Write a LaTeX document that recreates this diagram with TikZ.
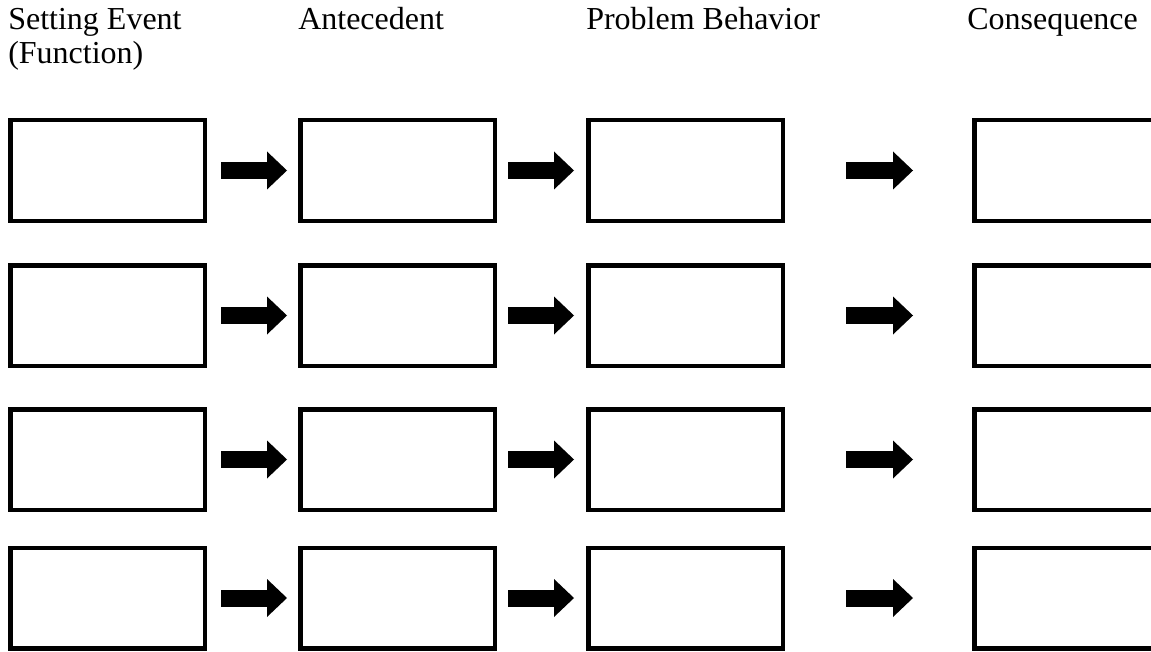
\documentclass[tikz,border=0pt]{standalone}
\usepackage{fontspec}
\setmainfont{Liberation Serif}
\usepackage{tikz}
\usetikzlibrary{arrows.meta}

\tikzset{
  stepbox/.style={draw, line width=3.375pt, minimum width=145.875pt, minimum height=75.375pt, inner sep=0pt},
  blockarrow/.style={line width=12.75pt, -{Triangle[length=15pt, width=28.5pt, line width=0pt]}},
  heading/.style={anchor=base west, inner sep=0pt, align=left, font={\fontsize{24}{25.5}\selectfont}}
}

\begin{document}
\begin{tikzpicture}[x=0.75pt, y=-0.75pt]

  \useasboundingbox (0,0) rectangle (1151,652);
  \clip (0,0) rectangle (1151,652);

  \node[heading] (hset) at (8,63.3) {Setting Event\\(Function)}; % base is the last line
  \node[heading] (hant) at (298,29.3) {Antecedent};
  \node[heading] (hpb)  at (586,29.3) {Problem Behavior};
  \node[heading] (hcon) at (967,29.3) {Consequence};

  \foreach \r/\y in {1/170.5, 2/315.5, 3/459.5, 4/598} {
    \node[stepbox] (set\r) at (107.5,\y) {};   % setting event
    \node[stepbox] (ant\r) at (397.5,\y) {};   % antecedent
    \node[stepbox] (pb\r)  at (685.5,\y) {};   % problem behavior
    \node[stepbox] (con\r) at (1071.5,\y) {};  % consequence, cut at the edge

    \draw[blockarrow, shorten <=10.5pt, shorten >=8.25pt] (set\r.east) -- (ant\r.west);
    \draw[blockarrow, shorten <=8.25pt, shorten >=9pt]    (ant\r.east) -- (pb\r.west);
    \draw[blockarrow, shorten <=45.75pt, shorten >=44.25pt] (pb\r.east) -- (con\r.west);
  }

\end{tikzpicture}
\end{document}
